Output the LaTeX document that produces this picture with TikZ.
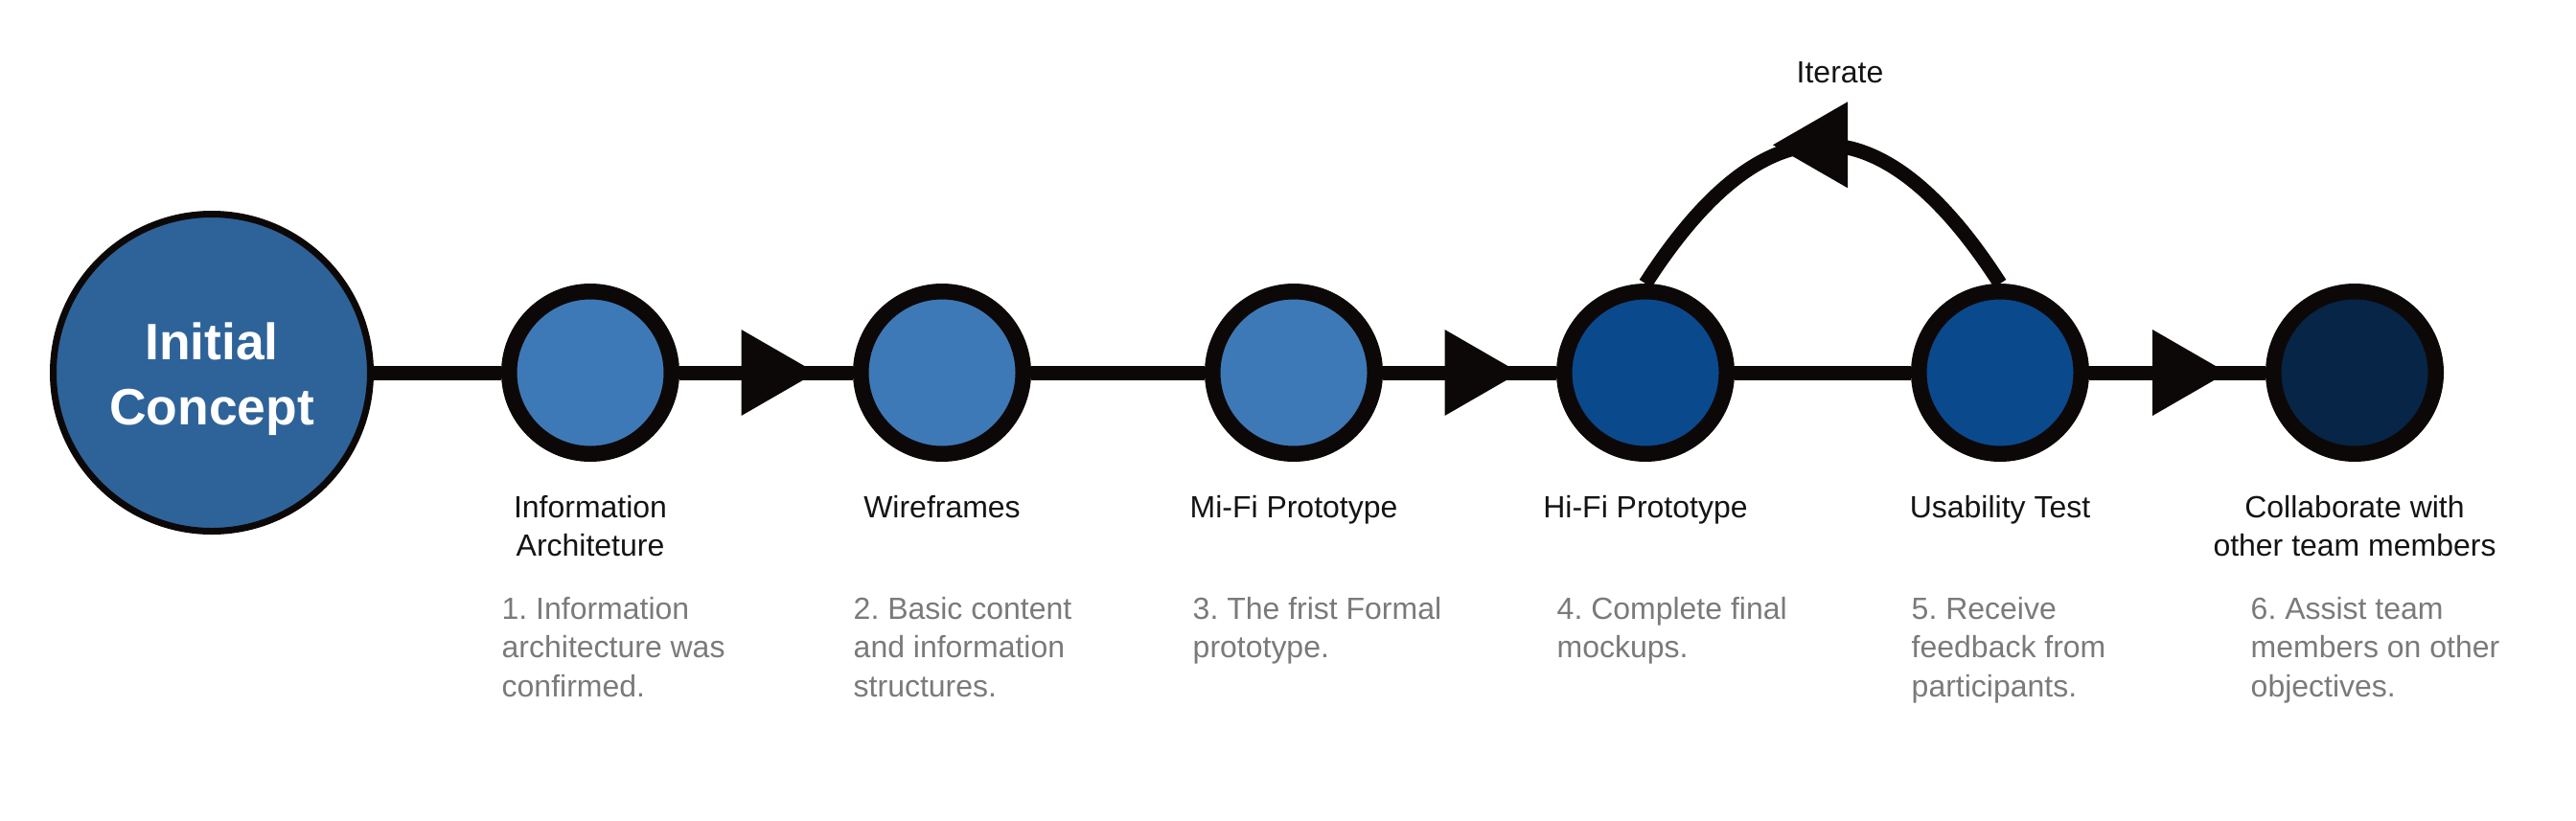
\documentclass[tikz,border=0pt]{standalone}
\usepackage{fontspec}
\setmainfont{Liberation Sans}
\usetikzlibrary{arrows.meta,positioning,shapes.geometric,backgrounds}

\definecolor{tinta}{HTML}{0D0808}
\definecolor{azulinicio}{HTML}{2E6399}
\definecolor{azulclaro}{HTML}{3E79B7}
\definecolor{azulmedio}{HTML}{0A498C}
\definecolor{azuloscuro}{HTML}{072546}
\definecolor{gristexto}{HTML}{7A7A7A}

\begin{document}
\frenchspacing
\begin{tikzpicture}[
        node distance=18.1mm,
        inicio/.style={circle, draw=tinta, line width=0.7mm, fill=azulinicio, minimum size=33.1mm, inner sep=0pt, align=center, text=white, font=\fontsize{15.2}{19.1}\selectfont\bfseries},
        etapa/.style={circle, draw=tinta, line width=1.65mm, minimum size=16.95mm, inner sep=0pt},
        titulo/.style={align=center, inner sep=0pt, text=black!92, font=\fontsize{9.1}{11.4}\selectfont},
        nota/.style={align=left, inner sep=0pt, anchor=north west, text=gristexto, font=\fontsize{9.1}{11.4}\selectfont},
        enlace/.style={draw=tinta, line width=1.5mm},
        punta/.style={isosceles triangle, isosceles triangle stretches, fill=tinta, inner sep=0pt, outer sep=0pt, minimum width=9mm, minimum height=7.8mm}
    ]
        \useasboundingbox (0,0) rectangle (26.88,8.56);

        \node[inicio] (ini) at (2.21,4.67) {\rule{0pt}{5.2mm}Initial\\Concept};
        \node[etapa, fill=azulclaro, right=13.3mm of ini] (c1) {};
        \node[etapa, fill=azulclaro, right=of c1] (c2) {};
        \node[etapa, fill=azulclaro, right=of c2] (c3) {};
        \node[etapa, fill=azulmedio, right=of c3] (c4) {};
        \node[etapa, fill=azulmedio, right=18.4mm of c4] (c5) {};
        \node[etapa, fill=azuloscuro, right=18.4mm of c5] (c6) {};

        % titulos bajo cada etapa
        \node[titulo, below=3.5mm of c1] (t1) {Information\\Architeture};
        \node[titulo, below=3.5mm of c2] (t2) {Wireframes};
        \node[titulo, below=3.5mm of c3] (t3) {Mi-Fi Prototype};
        \node[titulo, below=3.5mm of c4] (t4) {Hi-Fi Prototype};
        \node[titulo, below=3.5mm of c5] (t5) {Usability Test};
        \node[titulo, below=3.5mm of c6] (t6) {Collaborate with\\other team members};

        % descripciones
        \coordinate (fila) at (0,2.33);
        \node[nota] (d1) at (c1.west |- fila) {1. Information\\architecture was\\confirmed.};
        \node[nota] (d2) at (c2.west |- fila) {2. Basic content\\and information\\structures.};
        \node[nota, xshift=-1.3mm] (d3) at (c3.west |- fila) {3. The frist Formal\\prototype.};
        \node[nota] (d4) at (c4.west |- fila) {4. Complete final\\mockups.};
        \node[nota] (d5) at (c5.west |- fila) {5. Receive\\feedback from\\participants.};
        \node[nota, xshift=-1.6mm] (d6) at (c6.west |- fila) {6. Assist team\\members on other\\objectives.};

        % lineas y flechas
        \begin{scope}[on background layer]
            \draw[enlace] (ini) -- (c1);
            \draw[enlace] (c1) -- node[punta] {} (c2);
            \draw[enlace] (c2) -- (c3);
            \draw[enlace] (c3) -- node[punta] {} (c4);
            \draw[enlace] (c4) -- (c5);
            \draw[enlace] (c5) -- node[punta] {} (c6);
            \draw[enlace] (c5.north) .. controls +(-1.24,1.93) and +(1.24,1.93) .. node[punta, shape border rotate=180] (vuelta) {} (c4.north);
        \end{scope}

        \node[titulo, above=3.4mm of vuelta, xshift=1.8mm] (iter) {Iterate};

\end{tikzpicture}
\end{document}
